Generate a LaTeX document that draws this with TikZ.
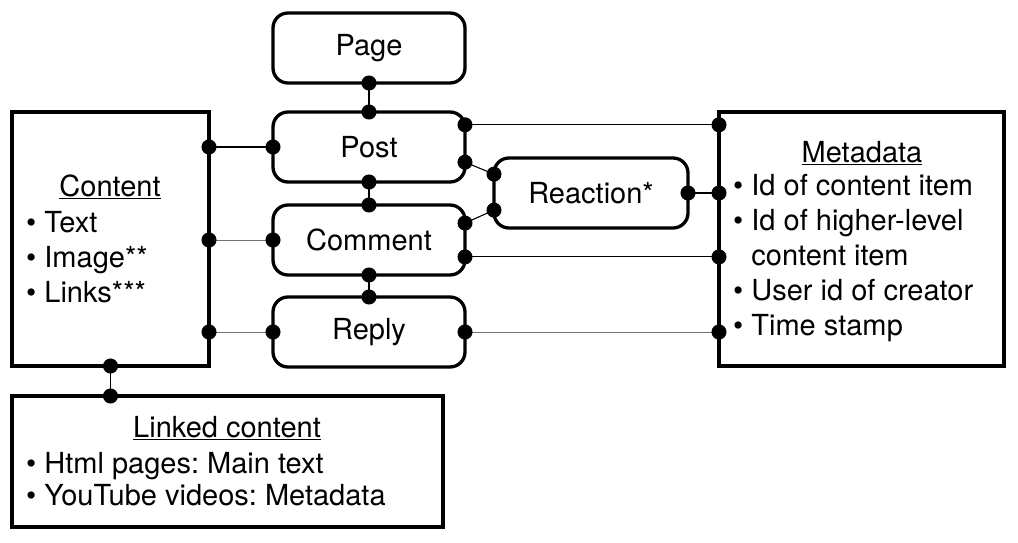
\documentclass[tikz,border=0pt]{standalone}
\usepackage{fontspec}
\setmainfont{TeX Gyre Heros}
\usetikzlibrary{arrows.meta}
\frenchspacing
\tikzset{rb/.style = {rectangle, rounded corners=15pt, line width=3.3pt, minimum width=192pt, minimum height=70pt, inner sep=0pt, outer sep=0pt, draw},
           sb/.style = {rectangle, line width=3.3pt, inner sep=0pt, outer sep=0pt, draw},
           ti/.style = {inner sep=0pt},
           li/.style = {inner sep=0pt, align=left, anchor=west},
           ln/.style = {line width=1.1pt, {Circle[length=15pt, color=black, fill=black]}-{Circle[length=15pt, color=black, fill=black]}, shorten <=-7.5pt, shorten >=-7.5pt},
           lg/.style = {ln, draw=black!55, line width=0.8pt}}

\begin{document}
\begin{tikzpicture}[x=1pt, y=-1pt, font=\fontsize{29}{35}\selectfont]
    \useasboundingbox (0,0) rectangle (1018,543);
    \node[rb] (page) at (369,48) {Page};
    \node[rb] (post) at (369,147) {Post};
    \node[rb] (comment) at (369,240) {Comment};
    \node[rb] (reply) at (369,332) {Reply};
    \node[rb, minimum width=194pt] (reaction) at (591,193) {Reaction*};
    \node[sb, minimum width=197pt, minimum height=254pt] (content) at (110.5,239) {};
    \node[sb, minimum width=285pt, minimum height=254pt] (meta) at (861.5,239) {};
    \node[sb, minimum width=431pt, minimum height=131pt] (linked) at (227.5,461.5) {};
    \node[ti] (contentT) at (110,187) {\underline{Content}};
    \node[li] (contentL) at (26,257) {\textbullet\ Text\\ \textbullet\ Image**\\ \textbullet\ Links***};
    \node[ti] (metaT) at (862,153) {\underline{Metadata}};
    \node[li] (metaL) at (733,258) {\textbullet\ Id of content item\\ \textbullet\ Id of higher-level\\ \phantom{\textbullet\ }content item\\ \textbullet\ User id of creator\\ \textbullet\ Time stamp};
    \node[ti] (linkedT) at (227,428) {\underline{Linked content}};
    \node[li, font=\fontsize{29}{32}\selectfont] (linkedL) at (26,479) {\textbullet\ Html pages: Main text\\ \textbullet\ YouTube videos: Metadata};
    \draw[ln] (page.south) -- (post.north);
    \draw[ln] (post.south) -- (comment.north);
    \draw[ln] (comment.south) -- (reply.north);
    \draw[ln] (content.east |- post.west) -- (post.west);
    \draw[lg] (content.east |- comment.west) -- (comment.west);
    \draw[lg] (content.east |- reply.west) -- (reply.west);
    \draw[ln] (content.south) -- (content.south |- linked.north);
    \draw[ln] (post.13.5) -- (post.13.5 -| meta.west);
    \draw[ln] (post.-9) -- (reaction.169.5);
    \draw[ln] (comment.10) -- (reaction.190.5);
    \draw[ln] (comment.-10) -- (comment.-10 -| meta.west);
    \draw[ln] (reaction.east) -- (reaction.east -| meta.west);
    \draw[lg] (reply.east) -- (reply.east -| meta.west);
\end{tikzpicture}
\end{document}
